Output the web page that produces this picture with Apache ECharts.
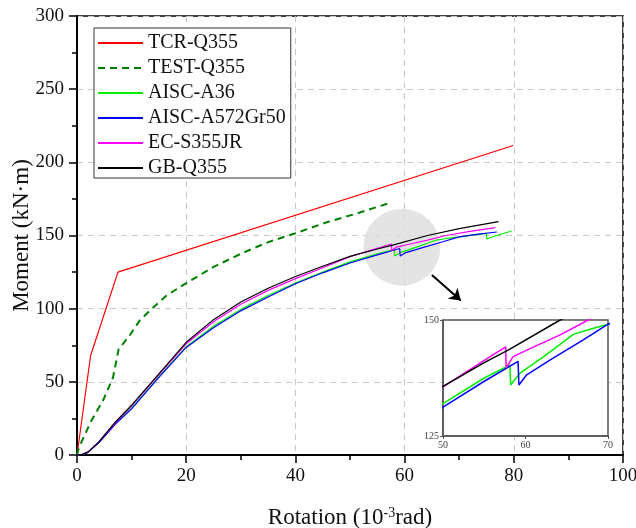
<!DOCTYPE html>
<html><head><meta charset="utf-8">
<script src="https://cdn.jsdelivr.net/npm/echarts/dist/echarts.min.js"></script>
<style>html,body{margin:0;padding:0;background:#fff}#c{width:636px;height:528px}</style>
</head><body><div id="c"></div>
<script>
// ---- data ----
const seriesNames = ['TCR-Q355', 'TEST-Q355', 'AISC-A36', 'AISC-A572Gr50', 'EC-S355JR', 'GB-Q355'];
const tcrQ355 = [[0,0],[2.5,68],[7.5,125],[79.9,211.5]];
const testQ355 = [[0,0],[0.3,4.5],[1.2,12],[2.7,24],[4.8,37.5],[6.6,53],[7.6,72],[9.7,82],[11.5,92],[14,101],[16.4,109],[19.8,117],[25,128.5],[30,137.5],[35,145.5],[40,151.5],[45.7,159],[51.2,165],[57.5,172.5]];
const aiscA36 = [[0,0],[1,0.4],[2,1.8],[4,8.5],[7,21.5],[10,32],[15,53.5],[20,74],[25,88],[30,99.5],[35,109],[40,117.5],[45,125],[50,132],[55,137.5],[58.1,140.3],[58.2,136],[59.3,138.5],[62.2,142.1],[65.8,146.9],[67.4,147.8],[70,149.1],[75,151.5],[75.05,147.6],[76,149],[79.6,153.1]];
const aiscA572 = [[0,0],[1,0.4],[2,1.8],[4,8.3],[7,21],[10,31.5],[15,53],[20,73.5],[25,87],[30,98.5],[35,108],[40,117],[45,124.5],[50,131.2],[55,136.8],[59.1,141.1],[59.2,136],[60.1,138.1],[63,141.4],[67,145.7],[70,149.1],[73.5,151],[76.9,152.4]];
const ecS355 = [[0,0],[1,0.5],[2,2],[4,9],[7,22],[10,33.5],[15,55],[20,76],[25,91],[30,103],[35,112.5],[40,120.5],[45,128],[50,135.6],[55,141.3],[57.6,144.2],[57.65,139.7],[58.5,142.1],[61,144.2],[64.2,146.8],[67.6,150],[72,152.8],[76.6,155.4]];
const gbQ355 = [[0,0],[1,0.5],[2,2],[4,9],[7,22.5],[10,34],[15,55.5],[20,77],[25,92.5],[30,104.5],[35,114],[40,122],[45,129],[50,135.7],[55,140.8],[58,143.6],[64.2,150],[70,154.7],[77.2,159.5]];
const highlightCircle = [[59.5,142]];
const arrowFrom = [65, 123];
const arrowTo = [70.3, 105.5];
const xTicks = {min: 0, max: 100, interval: 20};
const yTicks = {min: 0, max: 300, interval: 50};
const insetX = {min: 50, max: 70, interval: 10};
const insetY = {min: 125, max: 150, interval: 25};

// ---- chart ----
const FONT = "'Liberation Serif','Times New Roman',serif";
const colors = {'TCR-Q355':'#ff0000','TEST-Q355':'#008000','AISC-A36':'#00ee00','AISC-A572Gr50':'#0000ff','EC-S355JR':'#ff00ff','GB-Q355':'#000000'};
const mainData = {'TCR-Q355':tcrQ355,'TEST-Q355':testQ355,'AISC-A36':aiscA36,'AISC-A572Gr50':aiscA572,'EC-S355JR':ecS355,'GB-Q355':gbQ355};

const series = [{
  type: 'scatter', xAxisIndex: 0, yAxisIndex: 0, data: highlightCircle,
  symbolSize: 77, itemStyle: {color: '#dddddd'}, z: 1, silent: true,
  markLine: {
    silent: true, symbol: ['none', 'arrow'], symbolSize: 11,
    label: {show: false},
    lineStyle: {color: '#000', width: 2, type: 'solid'},
    data: [[{coord: arrowFrom}, {coord: arrowTo}]]
  }
}];
seriesNames.forEach(n => {
  const dashed = n === 'TEST-Q355';
  series.push({
    name: n, type: 'line', xAxisIndex: 0, yAxisIndex: 0, data: mainData[n],
    symbol: 'none', z: 2,
    lineStyle: {color: colors[n], width: dashed ? 2 : 1.2, type: dashed ? [7,5] : 'solid'},
    itemStyle: {color: colors[n]}
  });
});
['AISC-A36','AISC-A572Gr50','EC-S355JR','GB-Q355'].forEach(n => {
  series.push({
    name: 'inset ' + n, type: 'line', xAxisIndex: 1, yAxisIndex: 1, data: mainData[n],
    symbol: 'none', z: 6, clip: true,
    lineStyle: {color: colors[n], width: 1.5},
    itemStyle: {color: colors[n]}
  });
});

const option = {
  animation: false,
  backgroundColor: '#fff',
  grid: [
    {left: 77, right: 13, top: 16, bottom: 73, show: true, borderColor: '#000', borderWidth: 1.5, backgroundColor: 'transparent', containLabel: false, outerBoundsMode: 'none'},
    {left: 443, right: 28, top: 320, bottom: 92, show: true, borderColor: '#555', borderWidth: 1.5, backgroundColor: '#fff', z: 3, containLabel: false, outerBoundsMode: 'none'}
  ],
  legend: {
    orient: 'vertical', left: 94, top: 28, data: seriesNames,
    itemWidth: 45, itemHeight: 14, itemGap: 5, padding: [5, 5, 0, 3],
    itemStyle: {opacity: 0},
    borderColor: '#333', borderWidth: 1, backgroundColor: '#fff',
    textStyle: {fontFamily: FONT, fontSize: 20, color: '#111'},
    selectedMode: false
  },
  xAxis: [{
    type: 'value', gridIndex: 0, min: xTicks.min, max: xTicks.max, interval: xTicks.interval,
    name: 'Rotation (10{sup|-3}rad)', nameLocation: 'middle', nameGap: 51,
    nameTextStyle: {fontFamily: FONT, fontSize: 23, color: '#111', rich: {sup: {fontFamily: FONT, fontSize: 14, verticalAlign: 'top', color: '#111'}}},
    axisLine: {show: true, lineStyle: {color: '#000', width: 2}},
    axisTick: {show: true, inside: false, length: 8, lineStyle: {color: '#000', width: 1.5}},
    minorTick: {show: true, splitNumber: 2, length: 5, lineStyle: {color: '#000', width: 1.5}},
    axisLabel: {fontFamily: FONT, fontSize: 19, color: '#111', margin: 12},
    splitLine: {show: true, lineStyle: {color: '#c8c8c8', type: [6,5], width: 1}}
  }, {
    type: 'value', gridIndex: 1, min: insetX.min, max: insetX.max, interval: insetX.interval, z: 4,
    axisLine: {show: true, lineStyle: {color: '#555', width: 1.5}},
    axisTick: {show: true, length: 3, lineStyle: {color: '#555'}},
    axisLabel: {fontFamily: FONT, fontSize: 10, color: '#444', margin: 4},
    splitLine: {show: false}
  }],
  yAxis: [{
    type: 'value', gridIndex: 0, min: yTicks.min, max: yTicks.max, interval: yTicks.interval,
    name: 'Moment (kN·m)', nameLocation: 'middle', nameGap: 44, nameMoveOverlap: false,
    nameTextStyle: {fontFamily: FONT, fontSize: 23, color: '#111'},
    axisLine: {show: true, lineStyle: {color: '#000', width: 2}},
    axisTick: {show: true, inside: false, length: 8, lineStyle: {color: '#000', width: 1.5}},
    minorTick: {show: true, splitNumber: 2, length: 5, lineStyle: {color: '#000', width: 1.5}},
    axisLabel: {fontFamily: FONT, fontSize: 19, color: '#111', margin: 13},
    splitLine: {show: true, lineStyle: {color: '#c8c8c8', type: [6,5], width: 1}}
  }, {
    type: 'value', gridIndex: 1, min: insetY.min, max: insetY.max, interval: insetY.interval, z: 4,
    axisLine: {show: true, lineStyle: {color: '#555', width: 1.5}},
    axisTick: {show: true, length: 3, lineStyle: {color: '#555'}},
    axisLabel: {fontFamily: FONT, fontSize: 10, color: '#444', margin: 4},
    splitLine: {show: false}
  }],
  series: series
};
const chart = echarts.init(document.getElementById('c'), null, {renderer: 'canvas'});
chart.setOption(option);
</script>
</body></html>
